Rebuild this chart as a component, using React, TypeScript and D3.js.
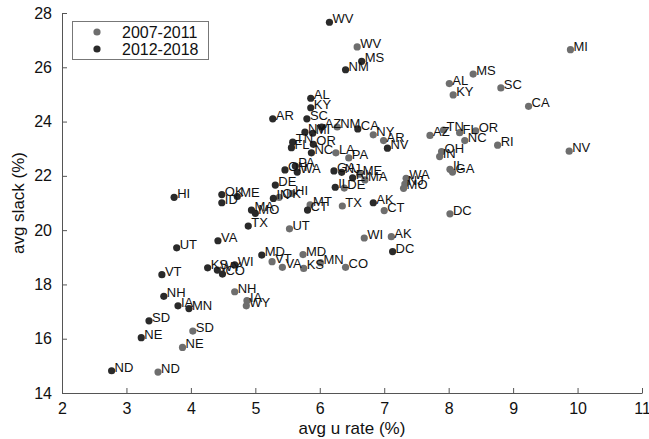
import React, { useEffect, useRef } from 'react';
import * as d3 from 'd3';

// 2007-2011 (gray)
const states1 = ['WV', 'MI', 'MS', 'AL', 'SC', 'KY', 'CA', 'NM', 'NY', 'AR', 'AZ', 'TN', 'FL', 'OR', 'NC', 'RI', 'NV', 'OH', 'IN', 'IL', 'GA', 'LA', 'PA', 'ME', 'MA', 'DE', 'WA', 'NJ', 'MO', 'DC', 'TX', 'CT', 'MT', 'OK', 'HI', 'UT', 'AK', 'WI', 'MD', 'VT', 'VA', 'KS', 'MN', 'CO', 'NH', 'IA', 'WY', 'SD', 'NE', 'ND'];
const urate1 = [6.58, 9.89, 8.38, 8.01, 8.81, 8.07, 9.24, 6.27, 6.83, 6.99, 7.71, 7.92, 8.17, 8.42, 8.25, 8.76, 9.87, 7.89, 7.86, 8.02, 8.06, 6.25, 6.45, 6.62, 6.70, 6.38, 7.34, 7.32, 7.30, 8.02, 6.35, 7.00, 5.85, 5.37, 5.57, 5.53, 7.11, 6.69, 5.74, 5.26, 5.42, 5.75, 6.01, 6.40, 4.68, 4.87, 4.86, 4.03, 3.87, 3.49];
const slack1 = [26.75, 26.65, 25.75, 25.40, 25.24, 24.98, 24.56, 23.80, 23.51, 23.30, 23.49, 23.69, 23.59, 23.66, 23.30, 23.13, 22.91, 22.89, 22.71, 22.24, 22.14, 22.85, 22.66, 22.06, 21.85, 21.55, 21.91, 21.70, 21.54, 20.60, 20.89, 20.72, 20.93, 21.21, 21.35, 20.05, 19.76, 19.71, 19.10, 18.84, 18.63, 18.59, 18.80, 18.63, 17.73, 17.40, 17.21, 16.28, 15.68, 14.77];

// 2012-2018 (dark)
const states2 = ['WV', 'MS', 'NM', 'AL', 'KY', 'AR', 'SC', 'AZ', 'CA', 'NY', 'MI', 'TN', 'OR', 'FL', 'NV', 'NC', 'PA', 'OH', 'WA', 'GA', 'NJ', 'RI', 'IL', 'DE', 'IN', 'HI', 'OK', 'ID', 'ME', 'MA', 'MO', 'TX', 'AK', 'CT', 'DC', 'UT', 'VA', 'MD', 'WI', 'KS', 'WY', 'CO', 'VT', 'NH', 'IA', 'MN', 'SD', 'NE', 'ND'];
const urate2 = [6.15, 6.65, 6.40, 5.86, 5.86, 5.27, 5.80, 6.03, 6.59, 5.77, 5.89, 5.58, 5.90, 5.56, 7.05, 5.87, 5.62, 5.46, 5.65, 6.22, 6.34, 6.51, 6.24, 5.31, 5.28, 3.74, 4.48, 4.48, 4.72, 4.94, 5.00, 4.89, 6.83, 5.81, 7.13, 3.78, 4.42, 5.10, 4.68, 4.26, 4.41, 4.49, 3.55, 3.58, 3.80, 3.97, 3.35, 3.23, 2.77];
const slack2 = [27.66, 26.22, 25.91, 24.86, 24.51, 24.10, 24.10, 23.80, 23.73, 23.61, 23.57, 23.24, 23.16, 23.04, 23.02, 22.85, 22.36, 22.22, 22.14, 22.18, 22.13, 21.93, 21.58, 21.66, 21.17, 21.21, 21.31, 21.01, 21.24, 20.74, 20.62, 20.15, 21.01, 20.74, 19.21, 19.35, 19.61, 19.08, 18.72, 18.61, 18.53, 18.38, 18.36, 17.56, 17.21, 17.11, 16.66, 16.04, 14.82];

const seriesNames = ['2007-2011', '2012-2018'];
const xTicks = [2, 3, 4, 5, 6, 7, 8, 9, 10, 11];
const yTicks = [14, 16, 18, 20, 22, 24, 26, 28];

const W = 649;
const H = 439;
const FONT = '"Liberation Sans", Arial, sans-serif';
const colors = ['#6e6e6e', '#2a2a2a'];

const App = () => {
  const ref = useRef<SVGSVGElement>(null);

  useEffect(() => {
    const svg = d3.select(ref.current);
    svg.selectAll('*').remove();

    const x = d3.scaleLinear().domain([2, 11]).range([62, 642]);
    const y = d3.scaleLinear().domain([14, 28]).range([393, 13]);

    // axes, ticks pointing inward
    const gx = svg.append('g')
      .attr('transform', `translate(0,${y(14)})`)
      .call(d3.axisBottom(x).tickValues(xTicks).tickSizeInner(-5).tickSizeOuter(0).tickPadding(10));
    const gy = svg.append('g')
      .attr('transform', `translate(${x(2)},0)`)
      .call(d3.axisLeft(y).tickValues(yTicks).tickSizeInner(-5).tickSizeOuter(0).tickPadding(10));
    [gx, gy].forEach(g => {
      g.select('.domain').attr('stroke', '#555');
      g.selectAll('.tick line').attr('stroke', '#555');
      g.selectAll('.tick text')
        .attr('fill', '#111')
        .style('font-family', FONT)
        .style('font-size', '16px');
    });

    svg.append('text')
      .attr('x', 352)
      .attr('y', 434)
      .attr('text-anchor', 'middle')
      .style('font-family', FONT)
      .style('font-size', '17px')
      .attr('fill', '#111')
      .text('avg u rate (%)');

    svg.append('text')
      .attr('transform', `translate(24,${y(21)}) rotate(-90)`)
      .attr('text-anchor', 'middle')
      .style('font-family', FONT)
      .style('font-size', '17px')
      .attr('fill', '#111')
      .text('avg slack (%)');

    const series = [
      { states: states1, u: urate1, s: slack1 },
      { states: states2, u: urate2, s: slack2 },
    ];

    series.forEach((ser, i) => {
      svg.append('g')
        .selectAll('circle')
        .data(ser.states)
        .enter().append('circle')
        .attr('cx', (d, j) => x(ser.u[j]))
        .attr('cy', (d, j) => y(ser.s[j]))
        .attr('r', 3.6)
        .attr('fill', colors[i]);
    });

    series.forEach(ser => {
      svg.append('g')
        .selectAll('text')
        .data(ser.states)
        .enter().append('text')
        .attr('x', (d, j) => x(ser.u[j]) + 3)
        .attr('y', (d, j) => y(ser.s[j]) + 1)
        .style('font-family', FONT)
        .style('font-size', '13px')
        .attr('fill', '#111')
        .text(d => d);
    });

    // legend
    const lg = svg.append('g');
    lg.append('rect')
      .attr('x', 72.5).attr('y', 21.5)
      .attr('width', 136).attr('height', 38)
      .attr('fill', 'white')
      .attr('stroke', '#777');
    seriesNames.forEach((name, i) => {
      lg.append('circle')
        .attr('cx', 97).attr('cy', 32 + i * 17)
        .attr('r', 3.6)
        .attr('fill', colors[i]);
      lg.append('text')
        .attr('x', 122).attr('y', 38 + i * 17)
        .style('font-family', FONT)
        .style('font-size', '16px')
        .attr('fill', '#111')
        .text(name);
    });
  }, []);

  return (
    <div style={{ position: 'fixed', left: 0, top: 0 }}>
      <svg ref={ref} width={W} height={H} style={{ display: 'block', background: 'white' }} />
    </div>
  );
};

export default App;
